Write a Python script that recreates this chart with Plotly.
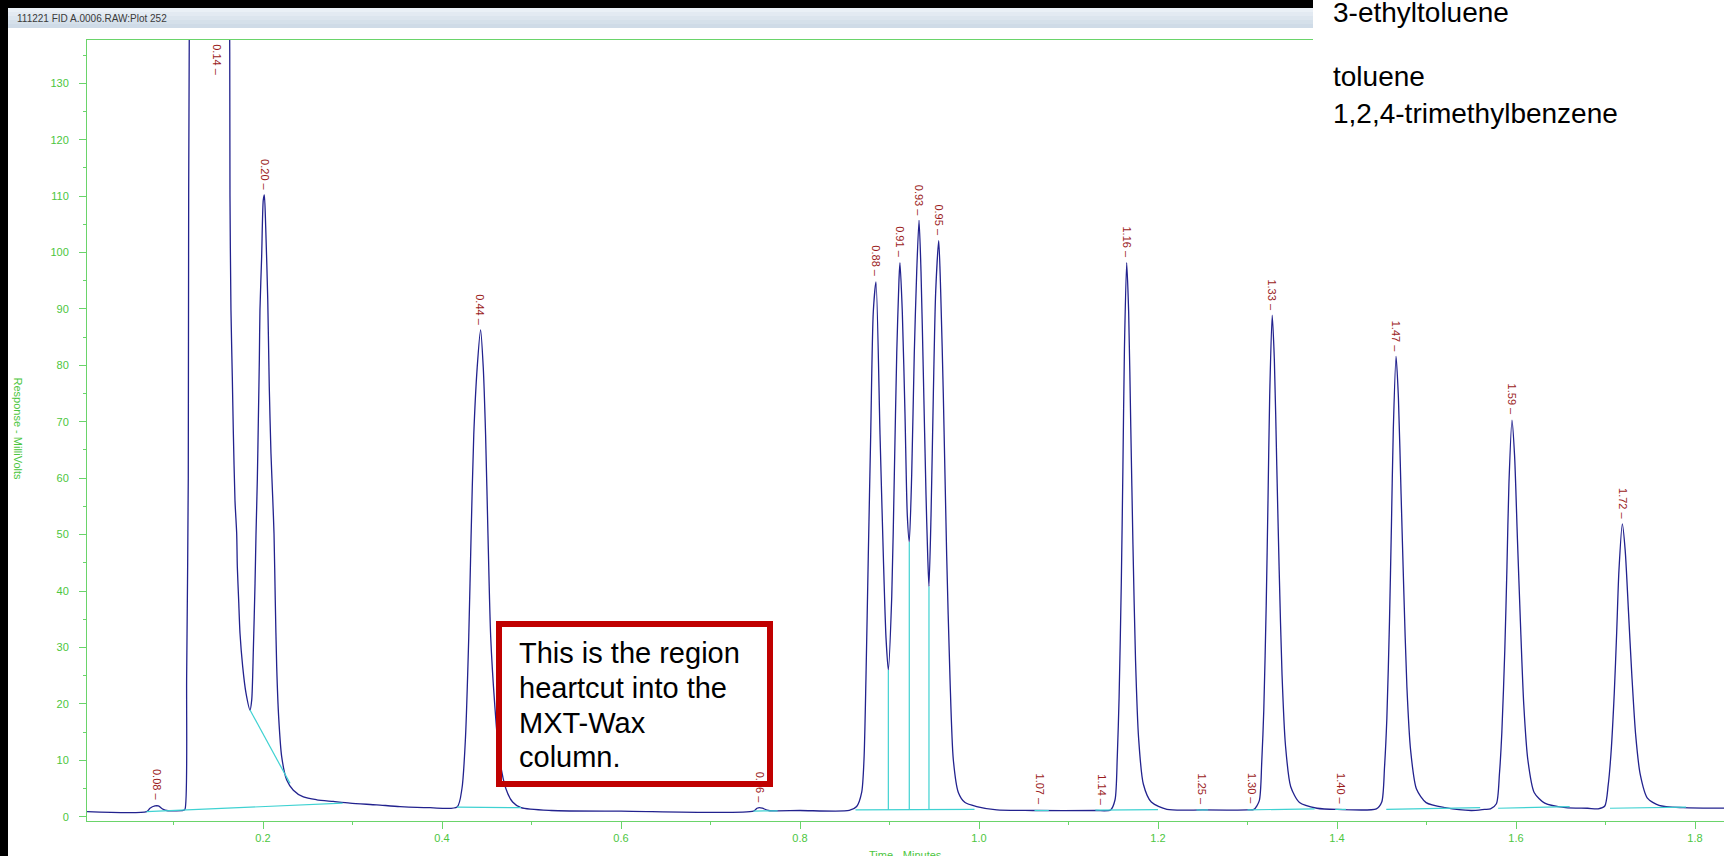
import plotly.graph_objects as go

# ---------------- data ----------------
# detector trace, split by region: time in minutes, response in millivolts
early_t = [0.0034, 0.0700, 0.0737, 0.0793, 0.0830, 0.0886, 0.0924, 0.1109, 0.1128]
early_mv = [0.9, 0.9, 1.5, 1.9, 1.9, 1.3, 1.1, 1.1, 1.3]

big_t = [0.1147, 0.1165, 0.1179, 0.1400, 0.1624, 0.1631, 0.1642, 0.1657, 0.1668, 0.1687,
         0.1706, 0.1713, 0.1728, 0.1743, 0.1773, 0.1810, 0.1855,
         0.1874, 0.1892, 0.1911, 0.1922, 0.1937, 0.1948, 0.1959, 0.1966, 0.1985, 0.2003,
         0.2015, 0.2030, 0.2053, 0.2070, 0.2089, 0.2108, 0.2123, 0.2137, 0.2153, 0.2175,
         0.2209, 0.2265, 0.2339, 0.2451, 0.2600, 0.2786, 0.2972, 0.3270, 0.3531]
big_mv = [25.0, 60.0, 150.0, 400.0, 150.0, 110.0, 89.8, 78.0, 68.5, 56.0,
          50.2, 44.3, 38.4, 32.5, 26.6, 21.9, 18.9,
          20.7, 29.5, 41.4, 50.2, 60.0, 70.3, 80.9, 89.8, 99.3, 109.3,
          110.2, 104.6, 91.6, 76.2, 64.4, 56.7, 50.2, 38.4, 26.6, 17.7,
          10.6, 6.5, 4.7, 3.5, 3.0, 2.7, 2.4, 2.1, 1.8]

p044_t = [0.3866, 0.4168, 0.4223, 0.4262, 0.4299, 0.4325, 0.4355, 0.4393, 0.4431, 0.4461,
          0.4487, 0.4514, 0.4544, 0.4589, 0.4638, 0.4713, 0.4789, 0.4883, 0.5220]
p044_mv = [1.6, 1.7, 5.0, 13.9, 31.9, 49.8, 67.7, 79.6, 86.3, 79.6,
           67.7, 49.8, 31.9, 19.9, 10.9, 5.0, 2.6, 1.6, 1.1]

mid_t = [0.6000, 0.7480, 0.7520, 0.7547, 0.7580, 0.7650, 0.8000]
mid_mv = [1.0, 1.0, 1.5, 1.6, 1.5, 1.1, 1.1]

cluster_t = [0.8550, 0.8633, 0.8689, 0.8715, 0.8737, 0.8763, 0.8790, 0.8819, 0.8849, 0.8894,
             0.8931, 0.8961, 0.8987, 0.9025, 0.9054, 0.9081, 0.9106, 0.9117, 0.9143, 0.9173,
             0.9199, 0.9221, 0.9248, 0.9277, 0.9304, 0.9330, 0.9352, 0.9378, 0.9408, 0.9427,
             0.9441, 0.9464, 0.9490, 0.9516, 0.9550, 0.9572, 0.9601, 0.9639, 0.9676, 0.9713,
             0.9769, 0.9844, 0.9974, 1.0200]
cluster_mv = [1.1, 1.8, 4.3, 10.1, 24.5, 46.2, 67.8, 89.5, 94.8, 67.8,
              46.2, 31.7, 26.0, 39.0, 60.6, 82.2, 95.2, 98.2, 89.5, 71.4,
              53.4, 48.7, 60.6, 82.2, 96.6, 105.7, 96.6, 78.6, 57.0, 46.2,
              40.8, 53.4, 75.0, 93.0, 102.1, 93.0, 75.0, 46.2, 24.5, 10.1,
              4.3, 2.5, 1.8, 1.2]

p116_t = [1.0600, 1.1300, 1.1470, 1.1520, 1.1545, 1.1565, 1.1590, 1.1608, 1.1625, 1.1650,
          1.1672, 1.1696, 1.1720, 1.1749, 1.1783, 1.1836, 1.1925, 1.2100, 1.2500]
p116_mv = [1.1, 1.1, 1.2, 3.0, 10.6, 21.0, 41.5, 62.0, 83.0, 98.2,
           89.5, 69.0, 48.3, 27.7, 14.0, 5.8, 2.6, 1.3, 1.2]

p133_t = [1.3000, 1.3073, 1.3131, 1.3159, 1.3182, 1.3209, 1.3229, 1.3248, 1.3276, 1.3300,
          1.3327, 1.3354, 1.3386, 1.3424, 1.3483, 1.3581, 1.3777, 1.4000]
p133_mv = [1.2, 1.3, 2.8, 9.6, 18.9, 37.5, 56.1, 74.7, 88.9, 81.0,
           62.3, 43.7, 25.1, 12.7, 5.3, 2.5, 1.5, 1.3]

p147_t = [1.4440, 1.4500, 1.4531, 1.4557, 1.4586, 1.4608, 1.4629, 1.4660, 1.4686, 1.4716,
          1.4746, 1.4781, 1.4823, 1.4888, 1.4996, 1.5210, 1.5500, 1.5650]
p147_mv = [1.4, 2.6, 8.8, 17.4, 34.4, 51.5, 68.6, 81.6, 74.3, 57.2,
           40.2, 23.0, 11.7, 4.9, 2.5, 1.6, 1.1, 1.3]

p159_t = [1.5715, 1.5781, 1.5815, 1.5842, 1.5875, 1.5899, 1.5921, 1.5955, 1.5984, 1.6016,
          1.6049, 1.6087, 1.6133, 1.6203, 1.6321, 1.6555, 1.6800]
p159_mv = [1.4, 2.3, 7.6, 15.0, 29.6, 44.3, 59.0, 70.3, 64.0, 49.2,
           34.6, 19.8, 10.0, 4.3, 2.4, 1.6, 1.5]

p172_t = [1.6918, 1.6992, 1.7030, 1.7061, 1.7098, 1.7125, 1.7150, 1.7188, 1.7220, 1.7257,
          1.7293, 1.7337, 1.7388, 1.7468, 1.7598, 1.7868, 1.8400]
p172_mv = [1.4, 1.9, 5.6, 11.1, 21.9, 32.7, 43.6, 51.9, 47.2, 36.3,
           25.4, 14.5, 7.5, 3.3, 2.0, 1.6, 1.5]

# integration baselines and drop lines (None separates segments)
base_t = [0.0699, 0.1147, 0.2890, None, 0.1855, 0.2302, None, 0.4168, 0.4883, None,
          0.7480, 0.7750, None, 0.8620, 0.9950, None,
          0.8987, 0.8987, None, 0.9221, 0.9221, None, 0.9441, 0.9441, None,
          1.0620, 1.0780, None, 1.1300, 1.2000, None, 1.2430, 1.2560, None,
          1.3000, 1.3750, None, 1.3980, 1.4100, None, 1.4550, 1.5600, None,
          1.5800, 1.6600, None, 1.7050, 1.7900]
base_mv = [0.9, 1.2, 2.4, None, 18.9, 5.9, None, 1.7, 1.6, None,
           1.0, 1.05, None, 1.2, 1.3, None,
           1.2, 26.0, None, 1.2, 48.7, None, 1.25, 40.8, None,
           1.1, 1.1, None, 1.15, 1.25, None, 1.2, 1.2, None,
           1.2, 1.4, None, 1.3, 1.3, None, 1.3, 1.6, None,
           1.5, 1.8, None, 1.5, 1.7]

# peak labels: text, retention time (min), apex height (mV); > axis max = off scale
peak_labels = ["0.08", "0.14", "0.20", "0.44", "0.76", "0.88", "0.91", "0.93", "0.95", "1.07",
               "1.14", "1.16", "1.25", "1.30", "1.33", "1.40", "1.47", "1.59", "1.72"]
peak_rt = [0.0815, 0.1489, 0.2015, 0.4425, 0.7547, 0.8849, 0.9117, 0.9330, 0.9550, 1.0680,
           1.1375, 1.1650, 1.2490, 1.3050, 1.3276, 1.4042, 1.4660, 1.5955, 1.7188]
peak_top_mv = [2.0, 999.0, 110.2, 86.3, 1.6, 94.8, 98.2, 105.7, 102.1, 1.2,
               1.2, 98.2, 1.2, 1.3, 88.9, 1.3, 81.6, 70.3, 51.9]

x_tick_step = 0.2
y_tick_step = 10
title_text = "111221 FID A.0006.RAW:Plot 252"
x_title = "Time - Minutes"
y_title = "Response - MilliVolts"
box_lines = ["This is the region", "heartcut into the", "MXT-Wax", "column."]
side_lines = ["3-ethyltoluene", "toluene", "1,2,4-trimethylbenzene"]

# ---------------- layout geometry ----------------
W, H = 1724, 856
PL, PR, PT, PB = 87, 1724, 39, 821
XMIN, XMAX = 0.00335, 1.8324
YMIN, YMAX = -0.762, 137.84


def px_x(px):
    return (px - PL) / (PR - PL)


def px_y(py):
    return (PB - py) / (PB - PT)


GREEN_TXT = "#4cc640"
GREEN_LINE = "#6ad46a"
NAVY = "#22228e"
CYAN = "#3fd2d2"
LABEL_RED = "#9b1c1c"
FONT = "Liberation Sans, Arial, sans-serif"

trace_t = early_t + big_t + p044_t + mid_t + cluster_t + p116_t + p133_t + p147_t + p159_t + p172_t
trace_mv = early_mv + big_mv + p044_mv + mid_mv + cluster_mv + p116_mv + p133_mv + p147_mv + p159_mv + p172_mv

fig = go.Figure()
fig.add_trace(go.Scatter(x=trace_t, y=trace_mv, mode="lines",
                         line=dict(color=NAVY, width=1.3, shape="spline", smoothing=0.7),
                         hoverinfo="skip"))
fig.add_trace(go.Scatter(x=base_t, y=base_mv, mode="lines", connectgaps=False,
                         line=dict(color=CYAN, width=1.2), hoverinfo="skip"))

shapes = []
# black screen edges
shapes.append(dict(type="rect", xref="paper", yref="paper", x0=px_x(0), x1=px_x(8),
                   y0=px_y(856), y1=px_y(0), fillcolor="black", line=dict(width=0)))
shapes.append(dict(type="rect", xref="paper", yref="paper", x0=px_x(0), x1=px_x(1313),
                   y0=px_y(8), y1=px_y(0), fillcolor="black", line=dict(width=0)))
# window title bar (banded gradient)
bands = ["#eaf0f6", "#e3eaf2", "#dce5ee", "#d5e0ea", "#cfdbe7"]
for i, c in enumerate(bands):
    shapes.append(dict(type="rect", xref="paper", yref="paper", x0=px_x(8), x1=px_x(1313),
                       y0=px_y(8 + 4 * (i + 1)), y1=px_y(8 + 4 * i), fillcolor=c,
                       line=dict(width=0)))
# top frame line of the plot
shapes.append(dict(type="line", xref="paper", yref="paper", x0=px_x(87), x1=px_x(1313),
                   y0=px_y(39.5), y1=px_y(39.5), line=dict(color=GREEN_LINE, width=1)))

annotations = []
for lab, rt, mv in zip(peak_labels, peak_rt, peak_top_mv):
    if mv > YMAX:
        annotations.append(dict(x=rt, y=1, xref="x", yref="paper", yanchor="top", yshift=-3,
                                text=lab + " –", textangle=90, showarrow=False,
                                font=dict(family=FONT, size=11, color=LABEL_RED)))
    else:
        annotations.append(dict(x=rt, y=mv, xref="x", yref="y", yanchor="bottom", yshift=3,
                                text=lab + " –", textangle=90, showarrow=False,
                                font=dict(family=FONT, size=11, color=LABEL_RED)))

# red call-out frame (transparent inside), drawn after the labels so it covers them
annotations.append(dict(x=px_x(496), y=px_y(621), xref="paper", yref="paper",
                        xanchor="left", yanchor="top", text=" ", showarrow=False,
                        width=265, height=154, borderwidth=6, borderpad=0,
                        bordercolor="#c00000", bgcolor="rgba(0,0,0,0)"))
for i, line in enumerate(box_lines):
    baseline = [662, 697, 732, 766][i]
    annotations.append(dict(x=px_x(517), y=px_y(baseline - 27.2), xref="paper", yref="paper",
                            xanchor="left", yanchor="top", text=line, showarrow=False,
                            font=dict(family=FONT, size=29, color="black")))
for i, line in enumerate(side_lines):
    baseline = [21, 85, 122][i]
    annotations.append(dict(x=px_x(1331), y=px_y(baseline - 26.3), xref="paper", yref="paper",
                            xanchor="left", yanchor="top", text=line, showarrow=False,
                            font=dict(family=FONT, size=28, color="black")))

annotations.append(dict(x=px_x(15), y=px_y(18), xref="paper", yref="paper",
                        xanchor="left", yanchor="middle", text=title_text, showarrow=False,
                        font=dict(family=FONT, size=10, color="#3a3a3a")))
annotations.append(dict(x=px_x(18), y=px_y(428.5), xref="paper", yref="paper",
                        xanchor="center", yanchor="middle", text=y_title, textangle=90,
                        showarrow=False, font=dict(family=FONT, size=11, color=GREEN_TXT)))
annotations.append(dict(x=px_x(905), y=px_y(847), xref="paper", yref="paper",
                        xanchor="center", yanchor="top", text=x_title,
                        showarrow=False, font=dict(family=FONT, size=11, color=GREEN_TXT)))

fig.update_layout(
    width=W, height=H,
    margin=dict(l=PL, r=W - PR, t=PT, b=H - PB, pad=0),
    paper_bgcolor="white", plot_bgcolor="white",
    showlegend=False,
    shapes=shapes, annotations=annotations,
    xaxis=dict(range=[XMIN, XMAX], tick0=0, dtick=x_tick_step, tickformat=".1f",
               ticks="outside", ticklen=7, tickwidth=1, tickcolor=GREEN_LINE,
               showline=True, linecolor=GREEN_LINE, linewidth=1,
               showgrid=False, zeroline=False,
               tickfont=dict(family=FONT, size=11, color=GREEN_TXT),
               minor=dict(dtick=x_tick_step / 2, ticks="outside", ticklen=3,
                          tickcolor=GREEN_LINE, showgrid=False)),
    yaxis=dict(range=[YMIN, YMAX], tick0=0, dtick=y_tick_step,
               ticks="outside", ticklen=7, tickwidth=1, tickcolor=GREEN_LINE,
               showline=True, linecolor=GREEN_LINE, linewidth=1,
               showgrid=False, zeroline=False, ticklabelstandoff=8,
               tickfont=dict(family=FONT, size=11, color=GREEN_TXT),
               minor=dict(dtick=y_tick_step / 2, ticks="outside", ticklen=3,
                          tickcolor=GREEN_LINE, showgrid=False)),
)

fig.write_html("out.html")
